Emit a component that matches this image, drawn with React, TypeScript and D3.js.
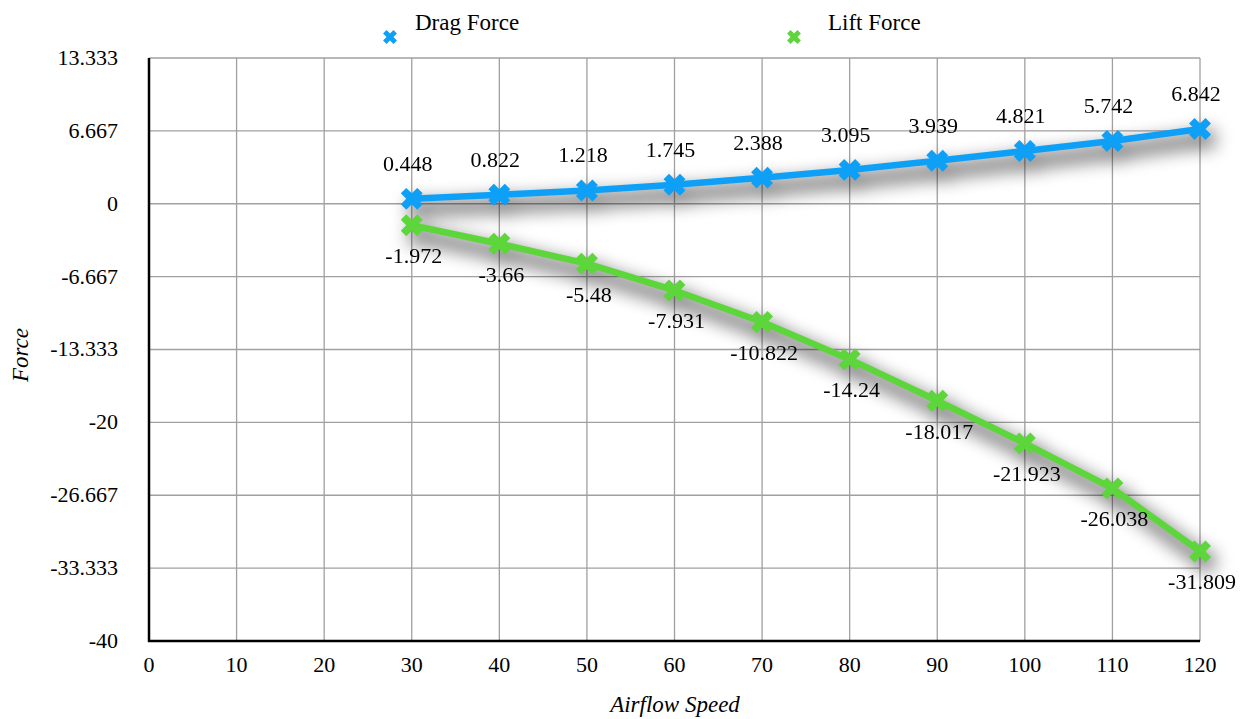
import React from "react";
import * as d3 from "d3";

const speeds = [30, 40, 50, 60, 70, 80, 90, 100, 110, 120];
const dragForce = [0.448, 0.822, 1.218, 1.745, 2.388, 3.095, 3.939, 4.821, 5.742, 6.842];
const liftForce = [-1.972, -3.66, -5.48, -7.931, -10.822, -14.24, -18.017, -21.923, -26.038, -31.809];
const xTicks = [0, 10, 20, 30, 40, 50, 60, 70, 80, 90, 100, 110, 120];
const yTicks = [-40, -33.333, -26.667, -20, -13.333, -6.667, 0, 6.667, 13.333];
const yTickLabels = ["-40", "-33.333", "-26.667", "-20", "-13.333", "-6.667", "0", "6.667", "13.333"];
const seriesNames = ["Drag Force", "Lift Force"];
const seriesColors = ["#0ea0f6", "#5dd63b"];

const W = 1247;
const H = 719;
const M = { left: 149, right: 1200, top: 58, bottom: 641 };
const FONT = "Liberation Serif, Tinos, DejaVu Serif, serif";

export default function App() {
  const x = d3.scaleLinear().domain([0, 120]).range([M.left, M.right]);
  const y = d3.scaleLinear().domain([-40, 13.333]).range([M.bottom, M.top]);
  const line = d3
    .line<number>()
    .x((_, i) => x(speeds[i]))
    .y((d) => y(d));
  const marker = d3.symbol().type(d3.symbolCross).size(300)()!;
  const legendMarker = d3.symbol().type(d3.symbolCross).size(120)()!;
  const series = [dragForce, liftForce];
  const legendX = [390, 794];
  const legendTextX = [415, 828];

  return (
    <svg width={W} height={H} style={{ position: "absolute", left: 0, top: 0, background: "#fff" }}>
      <defs>
        <filter id="blur" x="-20%" y="-50%" width="140%" height="200%">
          <feGaussianBlur stdDeviation="9" />
        </filter>
      </defs>
      <rect x={0} y={0} width={W} height={H} fill="#fff" />
      {xTicks.map((t) => (
        <line key={"gx" + t} x1={x(t)} x2={x(t)} y1={M.top} y2={M.bottom} stroke="#a0a0a0" strokeWidth={1.3} />
      ))}
      {yTicks.map((t) => (
        <line key={"gy" + t} x1={M.left} x2={M.right} y1={y(t)} y2={y(t)} stroke="#a0a0a0" strokeWidth={1.3} />
      ))}
      <line x1={M.left} x2={M.left} y1={M.top} y2={M.bottom + 1} stroke="#000" strokeWidth={2.5} />
      <line x1={M.left - 1} x2={M.right} y1={M.bottom} y2={M.bottom} stroke="#000" strokeWidth={2.5} />
      {yTicks.map((t, i) => (
        <text key={"yl" + t} x={118} y={y(t) + 7} textAnchor="end" fontFamily={FONT} fontSize={22} fill="#000">
          {yTickLabels[i]}
        </text>
      ))}
      {xTicks.map((t) => (
        <text key={"xl" + t} x={x(t)} y={672} textAnchor="middle" fontFamily={FONT} fontSize={22} fill="#000">
          {t}
        </text>
      ))}
      <text x={675} y={712} textAnchor="middle" fontFamily={FONT} fontSize={23} fontStyle="italic" fill="#000">
        Airflow Speed
      </text>
      <text
        transform={`translate(28,${355}) rotate(-90)`}
        textAnchor="middle"
        fontFamily={FONT}
        fontSize={23}
        fontStyle="italic"
        fill="#000"
      >
        Force
      </text>
      {/* shadows */}
      {series.map((vals, si) => (
        <g key={"sh" + si} filter="url(#blur)" opacity={0.55} transform="translate(6,10)">
          <path d={line(vals)!} fill="none" stroke="#000" strokeWidth={14} strokeLinejoin="round" />
          {vals.map((v, i) => (
            <path key={i} d={marker} transform={`translate(${x(speeds[i])},${y(v)}) rotate(45)`} fill="#000" />
          ))}
        </g>
      ))}
      {series.map((vals, si) => (
        <g key={"s" + si}>
          <path d={line(vals)!} fill="none" stroke={seriesColors[si]} strokeWidth={6.5} strokeLinejoin="round" />
          {vals.map((v, i) => (
            <path
              key={i}
              d={marker}
              transform={`translate(${x(speeds[i])},${y(v)}) rotate(45)`}
              fill={seriesColors[si]}
            />
          ))}
        </g>
      ))}
      {dragForce.map((v, i) => (
        <text key={"dl" + i} x={x(speeds[i]) - 4} y={y(v) - 28} textAnchor="middle" fontFamily={FONT} fontSize={22} fill="#000">
          {v}
        </text>
      ))}
      {liftForce.map((v, i) => (
        <text key={"ll" + i} x={x(speeds[i]) + 2} y={y(v) + 38} textAnchor="middle" fontFamily={FONT} fontSize={22} fill="#000">
          {v}
        </text>
      ))}
      {seriesNames.map((n, i) => (
        <g key={"lg" + i}>
          <path d={legendMarker} transform={`translate(${legendX[i]},37) rotate(45)`} fill={seriesColors[i]} />
          <text x={legendTextX[i]} y={30} fontFamily={FONT} fontSize={23} fill="#000">
            {n}
          </text>
        </g>
      ))}
    </svg>
  );
}
